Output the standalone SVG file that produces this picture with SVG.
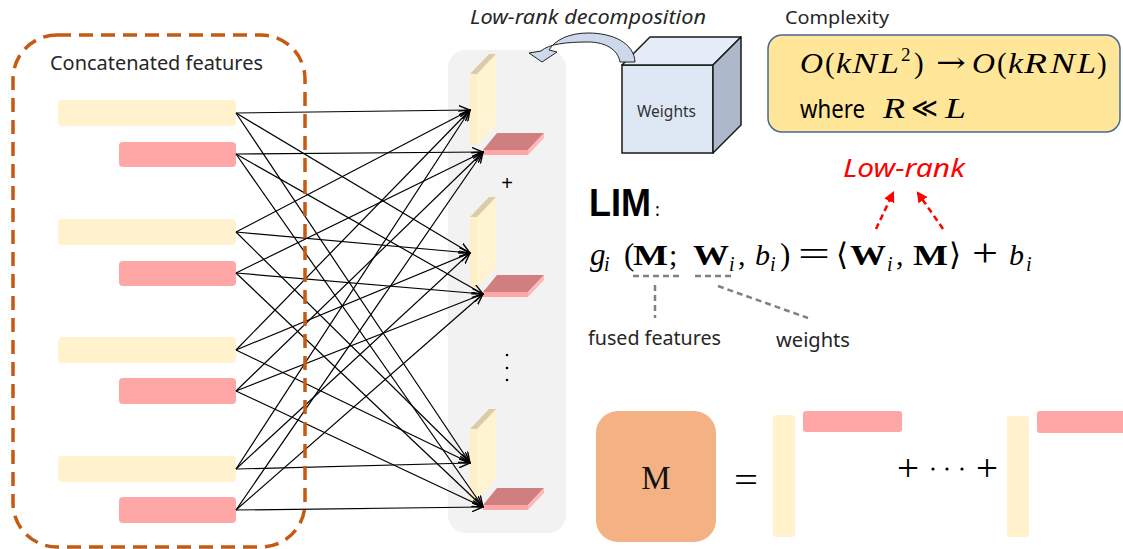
<svg xmlns="http://www.w3.org/2000/svg" width="1123" height="549" viewBox="0 0 1123 549">
  <defs>
    <style>
      .sans { font-family: "Noto Sans", "Liberation Sans", sans-serif; }
      .math { font-family: "Liberation Serif", "DejaVu Serif", serif; }
      .mi { font-family: "Liberation Serif", "DejaVu Serif", serif; font-style: italic; }
      .mb { font-family: "Liberation Serif", "DejaVu Serif", serif; font-weight: bold; }
      .sym { font-family: "DejaVu Serif", "DejaVu Sans", serif; }
      .ybar { fill: #fff2cc; }
      .pbar { fill: #ffa6a6; }
      .conn { stroke: #000; stroke-width: 1.2; fill: none; marker-end: url(#open); }
      .gdash { stroke: #808080; stroke-width: 2.5; stroke-dasharray: 6 4; fill: none; }
      .rdash { stroke: #ff0000; stroke-width: 2.5; stroke-dasharray: 6 4; fill: none; marker-end: url(#red); }
    </style>
    <marker id="open" viewBox="0 0 12 10" refX="11" refY="5" markerWidth="12" markerHeight="10" markerUnits="userSpaceOnUse" orient="auto">
      <path d="M0,0.5 L11,5 L0,9.5" fill="none" stroke="#000" stroke-width="1.4"/>
    </marker>
    <marker id="red" viewBox="0 0 10 10" refX="8" refY="5" markerWidth="11" markerHeight="11" markerUnits="userSpaceOnUse" orient="auto">
      <path d="M0,0 L10,5 L0,10 Z" fill="#ff0000"/>
    </marker>
    <!-- vertical factor slab (yellow) -->
    <g id="yslab">
      <rect x="470" y="74" width="7" height="71" fill="#fdf0c8"/>
      <polygon points="477,74 496,54 496,125 477,145" fill="#fff3d2"/>
      <polygon points="470,74 489,54 496,54 477,74" fill="#d8cda8"/>
    </g>
    <!-- horizontal factor slab (pink) -->
    <g id="pslab">
      <polygon points="483,150 497,133 544,133 528,150" fill="#cf7f7f"/>
      <rect x="483" y="150" width="45" height="5" fill="#ffa6a6"/>
      <polygon points="528,150 544,133 544,138 528,155" fill="#ffb8b8"/>
    </g>
  </defs>

  <rect width="1123" height="549" fill="#ffffff"/>

  <!-- feature bars -->
  <g id="features">
    <rect class="ybar" x="58" y="100" width="178" height="26" rx="4"/>
    <rect class="pbar" x="119" y="142" width="117" height="25" rx="4"/>
    <rect class="ybar" x="58" y="219" width="178" height="26" rx="4"/>
    <rect class="pbar" x="119" y="261" width="117" height="25" rx="4"/>
    <rect class="ybar" x="58" y="337" width="178" height="26" rx="4"/>
    <rect class="pbar" x="119" y="378" width="117" height="26" rx="4"/>
    <rect class="ybar" x="58" y="456" width="178" height="26" rx="4"/>
    <rect class="pbar" x="119" y="497" width="117" height="26" rx="4"/>
    <text class="sans" x="50" y="70" font-size="19" fill="#262626" textLength="213" lengthAdjust="spacingAndGlyphs">Concatenated features</text>
  </g>

  <!-- decomposed weight panel -->
  <g id="factor-panel">
    <rect x="448" y="50" width="118" height="483" rx="18" fill="#f2f2f2"/>
    <use href="#yslab"/>
    <use href="#pslab"/>
    <use href="#yslab" y="143"/>
    <use href="#pslab" y="142"/>
    <use href="#yslab" y="355"/>
    <use href="#pslab" y="355"/>
    <text font-family="Liberation Sans, sans-serif" x="507" y="190" font-size="20" fill="#000" text-anchor="middle">+</text>
    <circle cx="507" cy="355" r="1.3" fill="#000"/>
    <circle cx="507" cy="368" r="1.3" fill="#000"/>
    <circle cx="507" cy="380" r="1.3" fill="#000"/>
  </g>

  <!-- connectors: every row of one kind feeds every factor of that kind -->
  <g id="connectors">
    <path class="conn" d="M236,113 L470,110"/>
    <path class="conn" d="M236,113 L470,253"/>
    <path class="conn" d="M236,113 L470,463"/>
    <path class="conn" d="M236,232 L470,110"/>
    <path class="conn" d="M236,232 L470,253"/>
    <path class="conn" d="M236,232 L470,463"/>
    <path class="conn" d="M236,350 L470,110"/>
    <path class="conn" d="M236,350 L470,253"/>
    <path class="conn" d="M236,350 L470,463"/>
    <path class="conn" d="M236,469 L470,110"/>
    <path class="conn" d="M236,469 L470,253"/>
    <path class="conn" d="M236,469 L470,463"/>
    <path class="conn" d="M236,154 L483,152"/>
    <path class="conn" d="M236,154 L483,294"/>
    <path class="conn" d="M236,154 L483,507"/>
    <path class="conn" d="M236,273 L483,152"/>
    <path class="conn" d="M236,273 L483,294"/>
    <path class="conn" d="M236,273 L483,507"/>
    <path class="conn" d="M236,391 L483,152"/>
    <path class="conn" d="M236,391 L483,294"/>
    <path class="conn" d="M236,391 L483,507"/>
    <path class="conn" d="M236,510 L483,152"/>
    <path class="conn" d="M236,510 L483,294"/>
    <path class="conn" d="M236,510 L483,507"/>
  </g>

  <!-- dashed frame around the concatenated features -->
  <g id="feature-frame">
    <rect x="13" y="35" width="292" height="512" rx="44" fill="none" stroke="#c55a11" stroke-width="3.5" stroke-dasharray="14 8"/>
  </g>

  <!-- weights cube and decomposition arrow -->
  <g id="weights">
    <rect x="622" y="65" width="91" height="88" fill="#dee8f5" stroke="#1a1a1a" stroke-width="1.5"/>
    <polygon points="622,65 650,37 741,37 713,65" fill="#e3ecf7" stroke="#1a1a1a" stroke-width="1.5" stroke-linejoin="round"/>
    <polygon points="713,65 741,37 741,125 713,153" fill="#adb9ca" stroke="#1a1a1a" stroke-width="1.5" stroke-linejoin="round"/>
    <text class="sans" x="637" y="117" font-size="16" fill="#333" textLength="59" lengthAdjust="spacingAndGlyphs">Weights</text>
  </g>
  <g id="decomposition">
    <path d="M635,62 C634,43 613,33 588,33 C569,33 555,40 549,50 L557,52 L542,62 L529,53 L541,51 C549,44 566,42 588,42 C606,42 618,50 620,62 Z" fill="#cdd9ea" stroke="#222" stroke-width="1"/>
    <text class="sans" x="470" y="24" font-size="19" font-style="italic" fill="#262626" textLength="236" lengthAdjust="spacingAndGlyphs">Low-rank decomposition</text>
  </g>

  <!-- complexity box -->
  <g id="complexity">
    <text class="sans" x="785" y="24" font-size="18" fill="#262626" textLength="104" lengthAdjust="spacingAndGlyphs">Complexity</text>
    <rect x="768" y="35" width="352" height="97" rx="14" fill="#ffe699" stroke="#4a6799" stroke-width="1.5"/>
    <g font-size="29" fill="#000">
      <text class="mi" x="800" y="73" textLength="23" lengthAdjust="spacingAndGlyphs">O</text>
      <text class="math" x="825" y="73">(</text>
      <text class="mi" x="836" y="73" textLength="15" lengthAdjust="spacingAndGlyphs">k</text>
      <text class="mi" x="852" y="73" textLength="25" lengthAdjust="spacingAndGlyphs">N</text>
      <text class="mi" x="879" y="73" textLength="20" lengthAdjust="spacingAndGlyphs">L</text>
      <text class="math" x="901" y="61" font-size="19">2</text>
      <text class="math" x="914" y="73">)</text>
      <text class="sym" x="936" y="72" font-size="28" textLength="30" lengthAdjust="spacingAndGlyphs">→</text>
      <text class="mi" x="972" y="73" textLength="23" lengthAdjust="spacingAndGlyphs">O</text>
      <text class="math" x="997" y="73">(</text>
      <text class="mi" x="1008" y="73" textLength="15" lengthAdjust="spacingAndGlyphs">k</text>
      <text class="mi" x="1024" y="73" textLength="23" lengthAdjust="spacingAndGlyphs">R</text>
      <text class="mi" x="1050" y="73" textLength="25" lengthAdjust="spacingAndGlyphs">N</text>
      <text class="mi" x="1077" y="73" textLength="19" lengthAdjust="spacingAndGlyphs">L</text>
      <text class="math" x="1097" y="73">)</text>
      <text class="sans" x="800" y="118" font-size="26" textLength="65" lengthAdjust="spacingAndGlyphs">where</text>
      <text class="mi" x="883" y="118" textLength="22" lengthAdjust="spacingAndGlyphs">R</text>
      <text class="sym" x="911" y="117" font-size="27" textLength="27" lengthAdjust="spacingAndGlyphs">≪</text>
      <text class="mi" x="945" y="118" textLength="21" lengthAdjust="spacingAndGlyphs">L</text>
    </g>
  </g>

  <!-- LIM formula -->
  <g id="lim">
    <text font-family="Liberation Sans, Arial, sans-serif" x="589" y="216" font-size="39" font-weight="bold" fill="#000" textLength="62" lengthAdjust="spacingAndGlyphs">LIM</text>
    <text class="sans" x="655" y="216" font-size="18" fill="#000">:</text>
    <g font-size="30" fill="#000">
      <text class="mi" x="590" y="265" font-size="31">g</text>
      <text class="mi" x="604" y="271" font-size="20">i</text>
      <text class="math" x="624" y="265" font-size="31">(</text>
      <text class="mb" x="633" y="265" textLength="35" lengthAdjust="spacingAndGlyphs">M</text>
      <text class="math" x="669" y="265">;</text>
      <text class="mb" x="693" y="265" textLength="36" lengthAdjust="spacingAndGlyphs">W</text>
      <text class="mi" x="729" y="271" font-size="20">i</text>
      <text class="math" x="738" y="265">,</text>
      <text class="mi" x="755" y="265">b</text>
      <text class="mi" x="770" y="271" font-size="20">i</text>
      <text class="math" x="780" y="265" font-size="31">)</text>
      <text class="math" x="798" y="266" font-size="36" textLength="32" lengthAdjust="spacingAndGlyphs">=</text>
      <text class="sym" x="836" y="265" font-size="31">⟨</text>
      <text class="mb" x="850" y="265" textLength="36" lengthAdjust="spacingAndGlyphs">W</text>
      <text class="mi" x="887" y="271" font-size="20">i</text>
      <text class="math" x="896" y="265">,</text>
      <text class="mb" x="913" y="265" textLength="35" lengthAdjust="spacingAndGlyphs">M</text>
      <text class="sym" x="949" y="265" font-size="31">⟩</text>
      <text class="math" x="972" y="266" font-size="40" textLength="26" lengthAdjust="spacingAndGlyphs">+</text>
      <text class="mi" x="1009" y="265">b</text>
      <text class="mi" x="1026" y="271" font-size="20">i</text>
    </g>
    <path class="gdash" d="M633,276 L681,276"/>
    <path class="gdash" d="M695,276 L733,276"/>
    <path class="gdash" d="M655,285 L655,318"/>
    <path class="gdash" d="M718,286 L808,318"/>
    <text class="sans" x="588" y="345" font-size="19" fill="#262626" textLength="133" lengthAdjust="spacingAndGlyphs">fused features</text>
    <text class="sans" x="776" y="347" font-size="19" fill="#262626" textLength="74" lengthAdjust="spacingAndGlyphs">weights</text>
  </g>

  <!-- low-rank annotation -->
  <g id="low-rank">
    <text class="sans" x="843" y="177" font-size="25" font-style="italic" fill="#ff0000" textLength="122" lengthAdjust="spacingAndGlyphs">Low-rank</text>
    <path class="rdash" d="M876,229 L893,193"/>
    <path class="rdash" d="M943,229 L918,193"/>
  </g>

  <!-- M as a sum of rank-one terms -->
  <g id="m-matrix">
    <rect x="596" y="411" width="120" height="131" rx="22" fill="#f4b183"/>
    <text class="math" x="656" y="489" font-size="33" fill="#111" text-anchor="middle">M</text>
  </g>
  <g id="rank-sum">
    <text class="math" x="734" y="492" font-size="36" fill="#000" textLength="24" lengthAdjust="spacingAndGlyphs">=</text>
    <rect class="ybar" x="773" y="415" width="22" height="122" rx="3"/>
    <rect class="pbar" x="803" y="411" width="99" height="21" rx="3"/>
    <text class="math" x="897" y="481" font-size="38" fill="#000" textLength="22" lengthAdjust="spacingAndGlyphs">+</text>
    <circle cx="933" cy="469" r="1.6" fill="#000"/>
    <circle cx="947" cy="469" r="1.6" fill="#000"/>
    <circle cx="962" cy="469" r="1.6" fill="#000"/>
    <text class="math" x="976" y="481" font-size="38" fill="#000" textLength="22" lengthAdjust="spacingAndGlyphs">+</text>
    <rect class="ybar" x="1007" y="416" width="22" height="121" rx="3"/>
    <rect class="pbar" x="1037" y="411" width="95" height="22" rx="3"/>
  </g>
</svg>
